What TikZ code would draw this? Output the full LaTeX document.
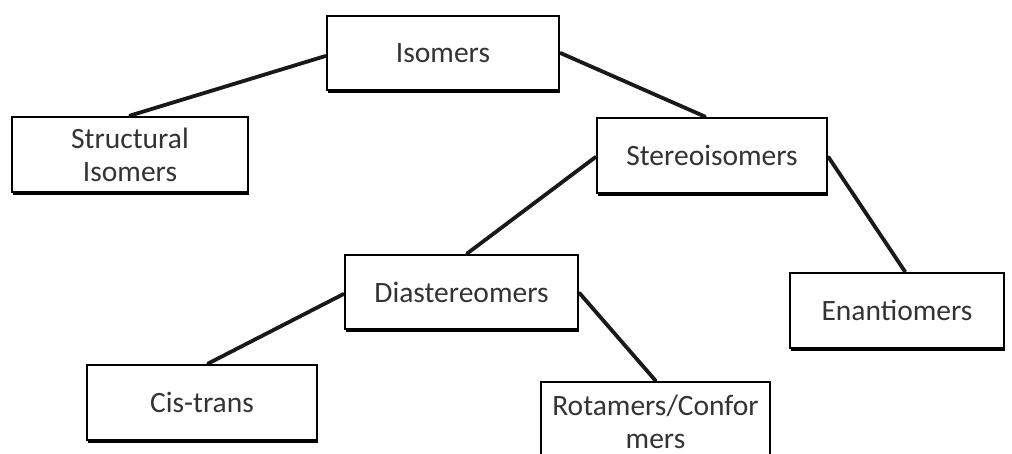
\documentclass[tikz,border=0pt]{standalone}
\usepackage{fontspec}
\setmainfont{Carlito}
\usetikzlibrary{shadows,calc,backgrounds}
\tikzset{
  box/.style={draw=black, line width=2.8pt, fill=white, inner sep=0pt, align=center,
    text=black!80, font=\fontsize{29.5}{33}\selectfont,
    drop shadow={shadow xshift=1.4pt, shadow yshift=-2.8pt, fill=black, opacity=1}},
  link/.style={line width=3.8pt, black!90, line cap=round}
}
\begin{document}
\begin{tikzpicture}[x=1pt,y=-1pt]
\useasboundingbox (0,0) rectangle (1012,453);
\clip (0,0) rectangle (1012,453);
\node[box, minimum width=232pt, minimum height=74pt] (iso) at (443,53) {Isomers};
\node[box, minimum width=236pt, minimum height=75pt] (struct) at (130,154.5) {Structural\\Isomers};
\node[box, minimum width=230pt, minimum height=75pt] (stereo) at (712,155.5) {Stereoisomers};
\node[box, minimum width=233pt, minimum height=74pt] (dia) at (461.5,292) {Diastereomers};
\node[box, minimum width=214pt, minimum height=75pt] (enan) at (897,310.5) {Enantiomers};
\node[box, minimum width=230pt, minimum height=75pt] (cis) at (202,402.5) {Cis-trans};
\node[box, minimum width=229pt, minimum height=80pt] (rot) at (655.5,422) {Rotamers/Confor\\mers};
\begin{pgfonlayer}{background}
\fill[white] (0,0) rectangle (1012,453);
\draw[link] ($(iso.west)+(0,3)$) -- (struct.north);
\draw[link] (iso.east) -- ($(stereo.north)+(-7,0)$);
\draw[link] ($(stereo.west)+(0,1.5)$) -- ($(dia.north)+(5.5,0)$);
\draw[link] ($(stereo.east)+(0,1.5)$) -- ($(enan.north)+(8,0)$);
\draw[link] ($(dia.west)+(0,2)$) -- ($(cis.north)+(6,0)$);
\draw[link] ($(dia.east)+(0,1)$) -- (rot.north);
\end{pgfonlayer}
\end{tikzpicture}
\end{document}
